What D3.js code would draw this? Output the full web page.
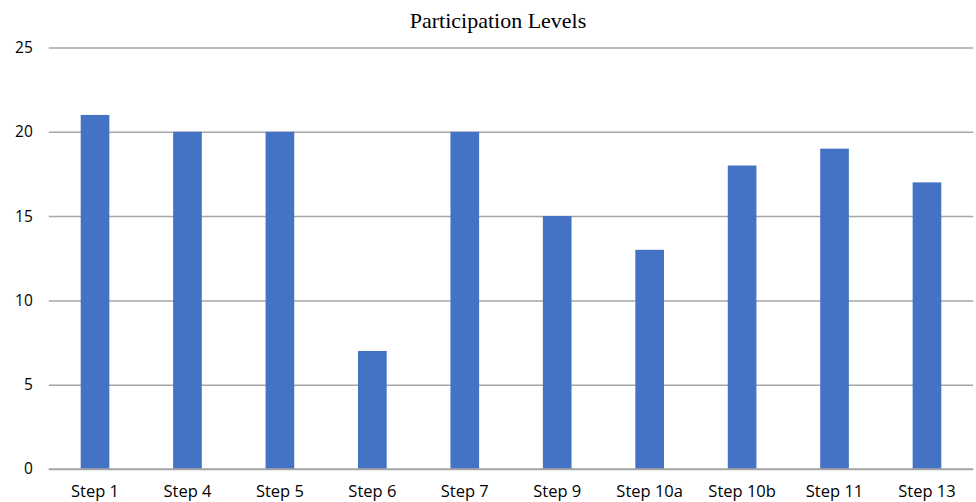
<!DOCTYPE html>
<html>
<head>
<meta charset="utf-8">
<script src="https://cdn.jsdelivr.net/npm/d3@7"></script>
<style>
  html, body { margin: 0; padding: 0; background: #fff; }
  svg { display: block; }
</style>
</head>
<body>
<svg id="chart" width="976" height="502"></svg>
<script>
// Participation counts per step
const categories = ["Step 1", "Step 4", "Step 5", "Step 6", "Step 7", "Step 9", "Step 10a", "Step 10b", "Step 11", "Step 13"];
const values = [21, 20, 20, 7, 20, 15, 13, 18, 19, 17];
const yTicks = [0, 5, 10, 15, 20, 25];

const svg = d3.select("#chart");
const plotLeft = 48.8, plotRight = 973.2, plotTop = 47.5, plotBottom = 469;

const x = d3.scaleBand()
  .domain(categories)
  .range([plotLeft, plotRight])
  .paddingInner(0.69)
  .paddingOuter(0.345);

const y = d3.scaleLinear().domain([0, 25]).range([plotBottom, plotTop]);

// Title
svg.append("text")
  .attr("x", 498)
  .attr("y", 28)
  .attr("text-anchor", "middle")
  .attr("font-family", "'Liberation Serif', 'Times New Roman', serif")
  .attr("font-size", 22)
  .attr("fill", "#000")
  .text("Participation Levels");

// Horizontal gridlines and value labels
const yAxis = d3.axisLeft(y)
  .tickValues(yTicks)
  .tickSize(-(plotRight - plotLeft))
  .tickPadding(16)
  .tickFormat(d3.format("d"));

const gy = svg.append("g")
  .attr("transform", `translate(${plotLeft},0)`)
  .call(yAxis);
gy.select(".domain").remove();
gy.selectAll(".tick line").attr("stroke", "#a6a6a6").attr("stroke-width", 1.5);
gy.selectAll(".tick text")
  .attr("font-family", "'Open Sans', 'Noto Sans', sans-serif")
  .attr("font-size", 15.5)
  .attr("fill", "#000");

// Bars
svg.append("g")
  .selectAll("rect")
  .data(values)
  .join("rect")
  .attr("x", (d, i) => x(categories[i]))
  .attr("y", d => y(d))
  .attr("width", x.bandwidth())
  .attr("height", d => plotBottom - y(d))
  .attr("fill", "#4472c4");

// Category axis
const xAxis = d3.axisBottom(x).tickSize(0).tickPadding(16);
const gx = svg.append("g")
  .attr("transform", `translate(0,${plotBottom})`)
  .call(xAxis);
gx.select(".domain").remove();
gx.selectAll(".tick text")
  .attr("font-family", "'Open Sans', 'Noto Sans', sans-serif")
  .attr("font-size", 16.5)
  .attr("fill", "#000");

// Baseline on top of bars
svg.append("line")
  .attr("x1", plotLeft).attr("x2", plotRight)
  .attr("y1", y(0)).attr("y2", y(0))
  .attr("stroke", "#a6a6a6").attr("stroke-width", 1.5);
</script>
</body>
</html>
